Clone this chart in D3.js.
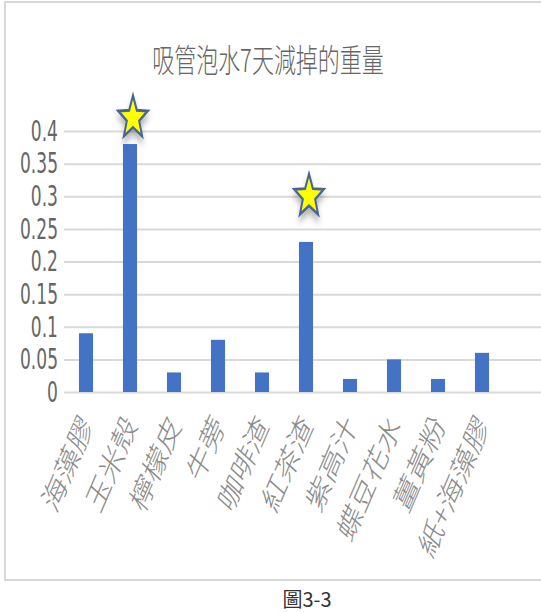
<!DOCTYPE html>
<html>
<head>
<meta charset="utf-8">
<script src="https://cdn.jsdelivr.net/npm/d3@7"></script>
<style>
  html, body { margin: 0; padding: 0; background: #fff; }
  svg { display: block; }
  text { font-family: "Noto Sans CJK TC", "Noto Sans CJK SC", "Liberation Sans", sans-serif; }
</style>
</head>
<body>
<svg id="chart" width="541" height="613"></svg>
<script>
// Weight lost by straws after soaking in water for 7 days
const categories = ["海藻膠", "玉米殼", "檸檬皮", "牛蒡", "咖啡渣", "紅茶渣", "紫高汁", "蝶豆花水", "薑黃粉", "紙+海藻膠"];
const weightLoss = [0.09, 0.38, 0.03, 0.08, 0.03, 0.23, 0.02, 0.05, 0.02, 0.06];
const tickValues = [0, 0.05, 0.1, 0.15, 0.2, 0.25, 0.3, 0.35, 0.4];
const tickLabels = ["0", "0.05", "0.1", "0.15", "0.2", "0.25", "0.3", "0.35", "0.4"];
// highlighted materials, with the height of each star marker in value units
const starCats = ["玉米殼", "紅茶渣"];
const starLevels = [0.42, 0.30];

const titleText = "吸管泡水7天減掉的重量";
const captionText = "圖3-3";

const W = 541, H = 613;
const stretch = 1.45;           // text is drawn tall and narrow
const svg = d3.select("#chart");

// chart frame
svg.append("rect")
  .attr("x", 5).attr("y", 2).attr("width", 560).attr("height", 578)
  .attr("fill", "#fff").attr("stroke", "#d9d9d9").attr("stroke-width", 2);

const plot = { left: 64, right: 504, top: 131, bottom: 392 };

const x = d3.scaleBand().domain(categories).range([plot.left, plot.right]).paddingInner(0.68).paddingOuter(0.34);
const y = d3.scaleLinear().domain([0, 0.4]).range([plot.bottom, plot.top]);

const defs = svg.append("defs");
const shadow = defs.append("filter").attr("id", "starShadow").attr("x", "-50%").attr("y", "-50%").attr("width", "200%").attr("height", "200%");
shadow.append("feDropShadow").attr("dx", 0).attr("dy", 4).attr("stdDeviation", 2.5)
  .attr("flood-color", "#000").attr("flood-opacity", 0.3);

// horizontal gridlines
const yAxis = d3.axisLeft(y).tickValues(tickValues).tickSize(-(W + 10 - plot.left)).tickFormat((d, i) => tickLabels[i]);
const gy = svg.append("g").attr("transform", `translate(${plot.left},0)`).call(yAxis);
gy.select(".domain").remove();
gy.selectAll(".tick line").attr("stroke", "#d9d9d9").attr("stroke-width", 2);
gy.selectAll(".tick text")
  .attr("x", 0).attr("dy", null)
  .attr("transform", `translate(-6,0) scale(1,${stretch})`)
  .attr("dominant-baseline", "central")
  .attr("text-anchor", "end")
  .attr("fill", "#666")
  .style("font-family", "'Liberation Sans Narrow', 'DejaVu Sans Condensed', sans-serif")
  .style("font-size", "19px");

// bars
svg.append("g").selectAll("rect")
  .data(weightLoss)
  .join("rect")
  .attr("x", (d, i) => x(categories[i]))
  .attr("y", d => y(d))
  .attr("width", x.bandwidth())
  .attr("height", d => y(0) - y(d))
  .attr("fill", "#4472c4");

// category labels, rotated and stretched
const gx = svg.append("g");
gx.selectAll("text")
  .data(categories)
  .join("text")
  .attr("transform", d => `translate(${x(d) + x.bandwidth() / 2 + 8},${y(0) + 34}) scale(1,${stretch}) rotate(-58)`)
  .attr("text-anchor", "end")
  .attr("fill", "#8a8a8a")
  .style("font-size", "24px")
  .style("font-weight", "300")
  .text(d => d);

// star markers
const starPath = (r) => {
  const pts = [];
  for (let k = 0; k < 10; k++) {
    const a = -Math.PI / 2 + k * Math.PI / 5;
    const rr = k % 2 === 0 ? r : r * 0.42;
    pts.push([rr * Math.cos(a), rr * Math.sin(a)]);
  }
  return "M" + pts.map(p => p.join(",")).join("L") + "Z";
};
svg.append("g").selectAll("path")
  .data(starCats)
  .join("path")
  .attr("d", starPath(15.5))
  .attr("transform", (d, i) => `translate(${x(d) + x.bandwidth() / 2 + 3},${y(starLevels[i])}) scale(1,${stretch})`)
  .attr("fill", "#ffff00")
  .attr("stroke", "#4a6593")
  .attr("stroke-width", 2)
  .attr("stroke-linejoin", "miter")
  .attr("filter", "url(#starShadow)");

// title
svg.append("text")
  .attr("transform", `translate(268,58) scale(1,${stretch})`)
  .attr("text-anchor", "middle")
  .attr("dominant-baseline", "central")
  .attr("fill", "#666")
  .style("font-size", "22px")
  .style("font-weight", "300")
  .text(titleText);

// figure caption
svg.append("text")
  .attr("x", 307).attr("y", 607)
  .attr("text-anchor", "middle")
  .attr("fill", "#333")
  .style("font-size", "20px")
  .text(captionText);
</script>
</body>
</html>
